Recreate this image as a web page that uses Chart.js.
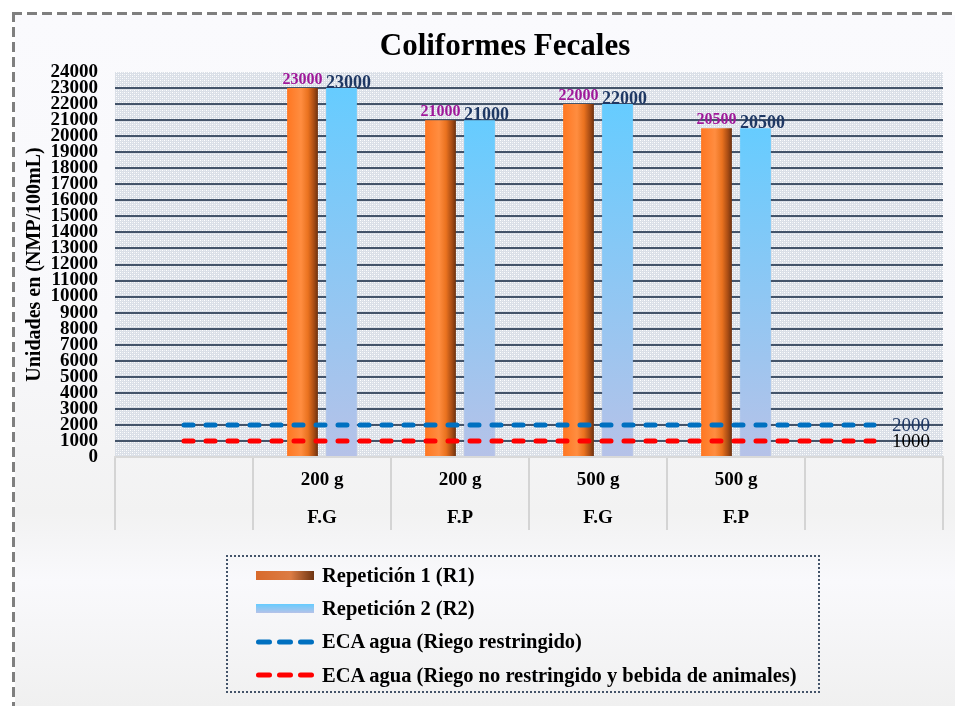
<!DOCTYPE html>
<html>
<head>
<meta charset="utf-8">
<script src="https://cdn.jsdelivr.net/npm/chart.js@4/dist/chart.umd.min.js"></script>
<style>
  html, body { margin: 0; padding: 0; background: #ffffff; width: 955px; height: 706px; overflow: hidden; }
  #frame { position: absolute; left: 15px; top: 15px; width: 940px; height: 691px;
    background: linear-gradient(to bottom, #fafafd 0%, #f8f8fb 45%, #f2f2f2 72%, #f9f9fc 82%, #f0f0f0 100%); }
  #dashTop { position: absolute; left: 12px; top: 12px; width: 943px; height: 3px;
    background: repeating-linear-gradient(to right, #7f7f7f 0 10px, transparent 10px 15px); }
  #dashLeft { position: absolute; left: 12px; top: 12px; width: 3px; height: 694px;
    background: repeating-linear-gradient(to bottom, #7f7f7f 0 10px, transparent 10px 15px); }
  #chart { position: absolute; left: 0; top: 0; }
  #legend { position: absolute; left: 226px; top: 555px; width: 590px; height: 134px;
    border: 2px dotted #44546a; font-family: "Liberation Serif", "Times New Roman", serif;
    font-weight: bold; font-size: 20.5px; color: #000; }
  .row { position: absolute; left: 0; height: 24px; display: flex; align-items: center; white-space: nowrap; }
  .row svg { margin-left: 28px; margin-right: 6px; }
</style>
</head>
<body>
<div id="frame"></div>
<div id="dashTop"></div>
<div id="dashLeft"></div>
<canvas id="chart" width="955" height="706"></canvas>
<div id="legend"></div>
<script>
// ---------- data ----------
const massLabels = ['', '200 g', '200 g', '500 g', '500 g', ''];
const typeLabels = ['', 'F.G', 'F.P', 'F.G', 'F.P', ''];
const rep1 = [null, 23000, 21000, 22000, 20500, null];
const rep2 = [null, 23000, 21000, 22000, 20500, null];
const ecaRestricted = [2000, 2000, 2000, 2000, 2000, 2000];
const ecaUnrestricted = [1000, 1000, 1000, 1000, 1000, 1000];
const yMin = 0, yMax = 24000, yStep = 1000;
const seriesNames = ['Repetición 1 (R1)', 'Repetición 2 (R2)', 'ECA agua (Riego restringido)', 'ECA agua (Riego no restringido y bebida de animales)'];
const chartTitle = 'Coliformes Fecales';
const yTitle = 'Unidades en (NMP/100mL)';

// ---------- helpers ----------
const FONT = '"Liberation Serif", "Times New Roman", serif';
const CAT_PCT = 0.565, BAR_PCT = 0.79;
const labels = massLabels.map((m, i) => [m, typeLabels[i]]);

function barSpan(chart, barSlot, index) {
  const xs = chart.scales.x;
  const center = xs.getPixelForValue(index);
  const catW = (xs.right - xs.left) / labels.length;
  const slot = catW * CAT_PCT / 2;
  const c = center + (barSlot === 0 ? -slot / 2 : slot / 2);
  const w = slot * BAR_PCT;
  return [c - w / 2, c + w / 2];
}

function r1Fill(ctx) {
  const chart = ctx.chart;
  if (ctx.type !== 'data' || !chart.scales || !chart.scales.x) return '#f47b20';
  const [l, r] = barSpan(chart, 0, ctx.dataIndex);
  if (!isFinite(l) || !isFinite(r) || r <= l) return '#f47b20';
  const g = chart.ctx.createLinearGradient(l, 0, r, 0);
  g.addColorStop(0, '#ff7722');
  g.addColorStop(0.45, '#ff8d40');
  g.addColorStop(0.68, '#ea721f');
  g.addColorStop(0.87, '#a84c14');
  g.addColorStop(1, '#6c3110');
  return g;
}
function r2Fill(ctx) {
  const chart = ctx.chart;
  if (ctx.type !== 'data' || !chart.scales || !chart.scales.y || ctx.raw == null) return '#7fc8f8';
  const ys = chart.scales.y;
  const t = ys.getPixelForValue(ctx.raw), b = ys.getPixelForValue(0);
  if (!isFinite(t) || !isFinite(b) || b <= t) return '#7fc8f8';
  const g = chart.ctx.createLinearGradient(0, t, 0, b);
  g.addColorStop(0, '#66ccff');
  g.addColorStop(1, '#b6c2e8');
  return g;
}

// ---------- plugins ----------
const plotBackground = {
  id: 'plotBackground',
  beforeDraw(chart) {
    const {ctx, chartArea: a} = chart;
    const t = document.createElement('canvas');
    t.width = 4; t.height = 4;
    const g = t.getContext('2d');
    g.fillStyle = '#dadfe7'; g.fillRect(0, 0, 4, 4);
    g.fillStyle = '#ffffff'; g.fillRect(0, 0, 1, 1); g.fillRect(2, 2, 1, 1);
    g.fillStyle = '#eef1f5'; g.fillRect(2, 0, 1, 1); g.fillRect(0, 2, 1, 1);
    ctx.save();
    ctx.fillStyle = ctx.createPattern(t, 'repeat');
    ctx.fillRect(a.left, a.top, a.right - a.left, a.bottom - a.top);
    ctx.restore();
  }
};

const valueLabels = {
  id: 'valueLabels',
  afterDatasetsDraw(chart) {
    const ctx = chart.ctx;
    ctx.save();
    chart.data.datasets.forEach((ds, di) => {
      const meta = chart.getDatasetMeta(di);
      meta.data.forEach((el, i) => {
        const v = ds.data[i];
        if (v == null) return;
        if (ds.labelKind === 'r1') {
          ctx.font = 'bold 16px ' + FONT;
          ctx.fillStyle = '#a0189a';
          ctx.textAlign = 'center';
          ctx.textBaseline = 'middle';
          ctx.fillText(String(v), el.x, el.y - 8);
        } else if (ds.labelKind === 'r2') {
          ctx.font = 'bold 18px ' + FONT;
          ctx.fillStyle = '#1f3864';
          ctx.textAlign = 'left';
          ctx.textBaseline = 'middle';
          ctx.fillText(String(v), el.x - el.width / 2, el.y - 5);
        } else if (ds.labelKind === 'end' && i === ds.data.length - 1) {
          ctx.font = '19px ' + FONT;
          ctx.fillStyle = ds.endLabelColor;
          ctx.textAlign = 'left';
          ctx.textBaseline = 'middle';
          ctx.fillText(String(v), el.x + 18, el.y + 1);
        }
      });
    });
    ctx.restore();
  }
};

const titleDraw = {
  id: 'titleDraw',
  afterDraw(chart) {
    const ctx = chart.ctx;
    ctx.save();
    ctx.font = 'bold 31px ' + FONT;
    ctx.fillStyle = '#000';
    ctx.textAlign = 'center';
    ctx.textBaseline = 'alphabetic';
    ctx.fillText(chartTitle, 505, 55);
    ctx.restore();
  }
};

// ---------- legend (HTML) ----------
const swatches = [
  '<svg width="60" height="12"><defs><linearGradient id="gl1" x1="0" y1="0" x2="1" y2="0"><stop offset="0" stop-color="#d86a2c"/><stop offset="0.6" stop-color="#dc7c44"/><stop offset="1" stop-color="#6e3412"/></linearGradient></defs><rect x="0" y="2" width="58" height="9" fill="url(#gl1)"/></svg>',
  '<svg width="60" height="12"><defs><linearGradient id="gl2" x1="0" y1="0" x2="0" y2="1"><stop offset="0" stop-color="#66ccff"/><stop offset="1" stop-color="#b6c2e8"/></linearGradient></defs><rect x="0" y="2" width="58" height="9" fill="url(#gl2)"/></svg>',
  '<svg width="60" height="12"><line x1="2.5" y1="6" x2="57.5" y2="6" stroke="#0070c0" stroke-width="5" stroke-linecap="round" stroke-dasharray="11 10"/></svg>',
  '<svg width="60" height="12"><line x1="2.5" y1="6" x2="57.5" y2="6" stroke="#ff0000" stroke-width="5" stroke-linecap="round" stroke-dasharray="11 10"/></svg>'
];
const rowCenters = [18, 51, 84.5, 118];
const legendEl = document.getElementById('legend');
seriesNames.forEach((name, i) => {
  const row = document.createElement('div');
  row.className = 'row';
  row.style.top = (rowCenters[i] - 12) + 'px';
  row.innerHTML = swatches[i] + '<span></span>';
  row.querySelector('span').textContent = name;
  legendEl.appendChild(row);
});

// ---------- chart ----------
new Chart(document.getElementById('chart'), {
  type: 'bar',
  data: {
    labels: labels,
    datasets: [
      { type: 'bar', label: seriesNames[0], data: rep1, backgroundColor: r1Fill, borderWidth: 0, order: 2, labelKind: 'r1' },
      { type: 'bar', label: seriesNames[1], data: rep2, backgroundColor: r2Fill, borderWidth: 0, order: 2, labelKind: 'r2' },
      { type: 'line', label: seriesNames[2], data: ecaRestricted, borderColor: '#0070c0', borderWidth: 5,
        borderDash: [9, 13], borderCapStyle: 'round', pointRadius: 0, fill: false, tension: 0, order: 1,
        labelKind: 'end', endLabelColor: '#1f3864' },
      { type: 'line', label: seriesNames[3], data: ecaUnrestricted, borderColor: '#ff0000', borderWidth: 5,
        borderDash: [9, 13], borderCapStyle: 'round', pointRadius: 0, fill: false, tension: 0, order: 1,
        labelKind: 'end', endLabelColor: '#000000' }
    ]
  },
  options: {
    responsive: false,
    animation: false,
    devicePixelRatio: 1,
    categoryPercentage: CAT_PCT,
    barPercentage: BAR_PCT,
    layout: { padding: { left: 0, right: 12, top: 72, bottom: 176 } },
    plugins: { legend: { display: false }, title: { display: false }, tooltip: { enabled: false } },
    scales: {
      x: {
        offset: true,
        grid: { offset: true, drawOnChartArea: false, drawTicks: true, tickLength: 73, color: '#d4d4d4', lineWidth: 2 },
        border: { display: true, color: '#d9d9d9', width: 2 },
        ticks: { padding: -69, color: '#000', autoSkip: false, maxRotation: 0,
          font: { family: FONT, size: 19, weight: 'bold', lineHeight: 2 } },
        afterFit(s) { s.height = 73; }
      },
      y: {
        min: yMin, max: yMax,
        grid: { drawTicks: false, lineWidth: 2,
          color: (c) => (c.tick && (c.tick.value === yMin || c.tick.value === yMax)) ? 'rgba(0,0,0,0)' : '#44546a' },
        border: { display: false },
        ticks: { stepSize: yStep, autoSkip: false, padding: 17, color: '#000',
          callback: (v) => String(v),
          font: { family: FONT, size: 19, weight: 'bold', lineHeight: 1 } },
        title: { display: true, text: yTitle, color: '#000', padding: { top: 23, bottom: 0 },
          font: { family: FONT, size: 20, weight: 'bold', lineHeight: 1.2 } },
        afterFit(s) { s.width = 115; }
      }
    }
  },
  plugins: [plotBackground, valueLabels, titleDraw]
});
</script>
</body>
</html>
